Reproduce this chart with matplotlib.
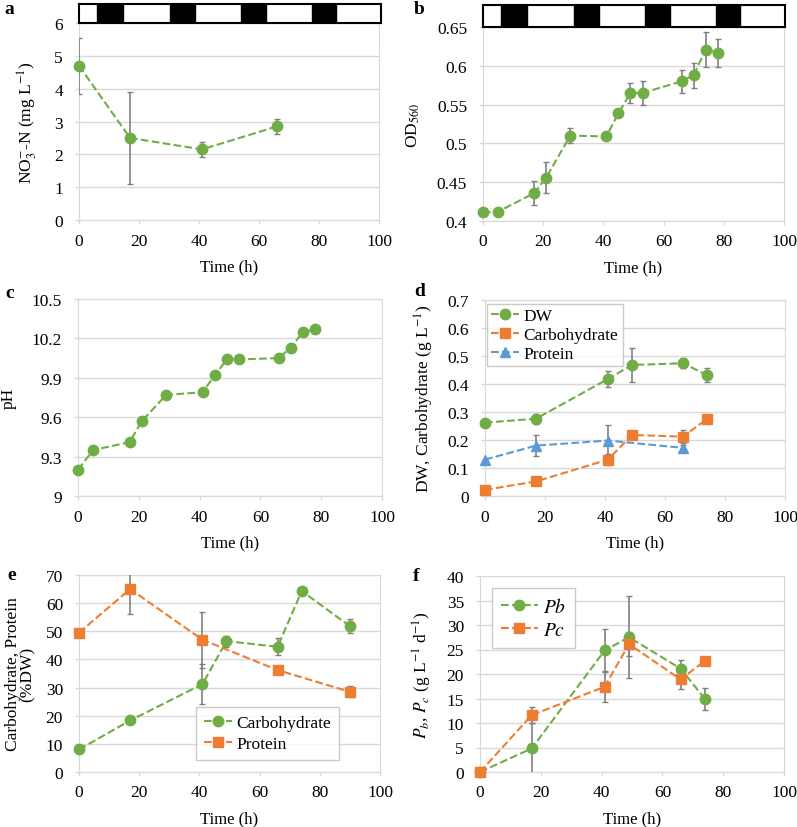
import matplotlib
matplotlib.use("Agg")
import matplotlib.pyplot as plt

plt.rcParams['font.family'] = ['Liberation Serif', 'DejaVu Serif']
plt.rcParams['mathtext.fontset'] = 'stix'

GREEN = '#70AD47'
ORANGE = '#ED7D31'
BLUE = '#5B9BD5'
ERR = '#808080'
GRID = '#D9D9D9'

# light / dark periods (h)
dark_start = [6, 30, 53.5, 77]
dark_end = [14.5, 38.5, 62, 85]

# a: nitrate
t_a = [0, 17, 41, 66]
no3 = [4.7, 2.5, 2.15, 2.85]
no3_err = [0.85, 1.4, 0.22, 0.22]

# b: OD560
t_b = [0, 5, 17, 21, 29, 41, 45, 49, 53, 66, 70, 74, 78]
od = [0.411, 0.412, 0.436, 0.456, 0.510, 0.509, 0.539, 0.565, 0.565, 0.580, 0.588, 0.621, 0.617]
od_err = [0, 0, 0.016, 0.02, 0.01, 0, 0, 0.013, 0.016, 0.015, 0.016, 0.023, 0.018]

# c: pH
t_c = [0, 5, 17, 21, 29, 41, 45, 49, 53, 66, 70, 74, 78]
ph = [9.2, 9.35, 9.41, 9.57, 9.77, 9.79, 9.92, 10.04, 10.04, 10.05, 10.13, 10.25, 10.27]

# d: DW, carbohydrate, protein (g/L)
t_d = [0, 17, 41, 49, 66, 74]
dw = [0.262, 0.276, 0.418, 0.468, 0.474, 0.432]
dw_err = [0, 0.018, 0.027, 0.062, 0.018, 0.025]
carb_d = [0.022, 0.052, 0.13, 0.218, 0.212, 0.275]
carb_d_err = [0, 0, 0.02, 0.012, 0.022, 0]
t_prot = [0, 17, 41, 66]
prot_d = [0.13, 0.18, 0.198, 0.172]
prot_d_err = [0, 0.038, 0.055, 0.01]

# e: % of DW
t_ec = [0, 17, 41, 49, 66, 74, 90]
carb_e = [8, 18.3, 31.2, 46.5, 44.5, 64.3, 51.8]
carb_e_err = [0, 0, 7, 2, 3, 0, 2.5]
t_ep = [0, 17, 41, 66, 90]
prot_e = [49.5, 65, 47, 36.2, 28.5]
prot_e_err = [0, 9, 10, 0, 2]

# f: productivities
t_f = [0, 17, 41, 49, 66, 74]
pb = [0, 4.8, 24.8, 27.5, 21.1, 14.9]
pb_err = [0, 5.2, 4.4, 8.4, 1.7, 2.3]
pc = [0, 11.6, 17.4, 26.1, 18.9, 22.7]
pc_err = [0, 1.6, 3.2, 2.5, 2.0, 0]

W, H = 797, 828
fig = plt.figure(figsize=(W / 100, H / 100), dpi=100)


def make_ax(left, top, right, bottom):
    return fig.add_axes([left / W, 1 - bottom / H, (right - left) / W, (bottom - top) / H])


def style(ax, ylim, yticks, ylabel, ylabelpad=11):
    ax.set_xlim(0, 100)
    ax.set_ylim(*ylim)
    ax.set_xticks(range(0, 101, 20))
    ax.set_yticks(yticks)
    ax.tick_params(length=3, width=1, color=GRID, labelsize=12.5)
    ax.tick_params(axis='y', pad=8.5)
    ax.tick_params(axis='x', pad=6)
    ax.grid(axis='y', color=GRID, lw=1)
    ax.set_axisbelow(True)
    for s in ax.spines.values():
        s.set_color(GRID)
    ax.set_xlabel('Time (h)', fontsize=12, labelpad=7)
    ax.set_ylabel(ylabel, fontsize=12.5, labelpad=ylabelpad)


def series(ax, x, y, err, color, marker, label=None, ms=7.5):
    if err is not None:
        ax.errorbar(x, y, yerr=err, fmt='none', ecolor=ERR, elinewidth=1.2, capsize=2.5,
                    zorder=2.6)
    ax.plot(x, y, ls='--', color=color, lw=1.5, marker=marker, ms=ms, label=label, zorder=3,
            clip_on=False)


def light_bar(left, top, right, bottom):
    bar = make_ax(left, top, right, bottom)
    bar.set_xlim(0, 100)
    bar.set_ylim(0, 1)
    for s, e in zip(dark_start, dark_end):
        bar.axvspan(s, e, color='black')
    bar.set_xticks([])
    bar.set_yticks([])
    for s in bar.spines.values():
        s.set_color('black')
        s.set_linewidth(1.5)


leg_kw = dict(frameon=True, fancybox=False, edgecolor='#BFBFBF', handletextpad=0.25,
              borderaxespad=0)

# a
ax = make_ax(79, 24, 379, 221)
series(ax, t_a, no3, no3_err, GREEN, 'o')
style(ax, (0, 6), range(0, 7), r'NO$_3^{-}$-N (mg L$^{-1}$)')
light_bar(79, 5, 381, 24)

# b
ax = make_ax(483, 28, 784, 222)
series(ax, t_b, od, od_err, GREEN, 'o')
style(ax, (0.4, 0.65), [0.4, 0.45, 0.5, 0.55, 0.6, 0.65], r'OD$_{560}$')
ax.set_yticklabels(['0.4', '0.45', '0.5', '0.55', '0.6', '0.65'])
light_bar(483, 6, 785, 28)

# c
ax = make_ax(78, 300, 382, 497)
series(ax, t_c, ph, None, GREEN, 'o')
style(ax, (9, 10.5), [9, 9.3, 9.6, 9.9, 10.2, 10.5], 'pH')
ax.set_yticklabels(['9', '9.3', '9.6', '9.9', '10.2', '10.5'])

# d
ax = make_ax(485, 301, 785, 497)
series(ax, t_d, dw, dw_err, GREEN, 'o', 'DW')
series(ax, t_d, carb_d, carb_d_err, ORANGE, 's', 'Carbohydrate', ms=7)
series(ax, t_prot, prot_d, prot_d_err, BLUE, '^', 'Protein', ms=6.5)
style(ax, (0, 0.7), [0, 0.1, 0.2, 0.3, 0.4, 0.5, 0.6, 0.7], r'DW, Carbohydrate (g L$^{-1}$)',
      ylabelpad=8)
ax.set_yticklabels(['0', '0.1', '0.2', '0.3', '0.4', '0.5', '0.6', '0.7'])
ax.legend(loc='upper left', bbox_to_anchor=(0.007, 0.98), fontsize=12.5, handlelength=1.6,
          labelspacing=0.15, borderpad=0.25, **leg_kw)

# e
ax = make_ax(79, 576, 380, 773)
series(ax, t_ec, carb_e, carb_e_err, GREEN, 'o', 'Carbohydrate')
series(ax, t_ep, prot_e, prot_e_err, ORANGE, 's', 'Protein', ms=7)
style(ax, (0, 70), range(0, 71, 10), 'Carbohydrate, Protein\n(%DW)', ylabelpad=7)
ax.yaxis.label.set_linespacing(0.95)
ax.legend(loc='lower left', bbox_to_anchor=(0.39, 0.06), fontsize=12.5, handlelength=1.6,
          labelspacing=0.3, borderpad=0.45, **leg_kw)

# f
ax = make_ax(480, 577, 784, 773)
series(ax, t_f, pb, pb_err, GREEN, 'o', r'$\mathit{Pb}$')
series(ax, t_f, pc, pc_err, ORANGE, 's', r'$\mathit{Pc}$', ms=7)
style(ax, (0, 40), range(0, 41, 5), r'$P_b$, $P_c$ (g L$^{-1}$ d$^{-1}$)', ylabelpad=9)
ax.legend(loc='upper left', bbox_to_anchor=(0.04, 0.94), fontsize=14, handlelength=1.9,
          labelspacing=0.3, borderpad=0.45, **leg_kw)

# panel letters
for letter, x, y in [('a', 4, 10), ('b', 414, 10), ('c', 5, 293), ('d', 414, 292),
                     ('e', 7, 576), ('f', 413, 577)]:
    fig.text(x / W, 1 - y / H, letter, fontsize=14, fontweight='bold', va='center')

fig.savefig('out.png', dpi=100)
